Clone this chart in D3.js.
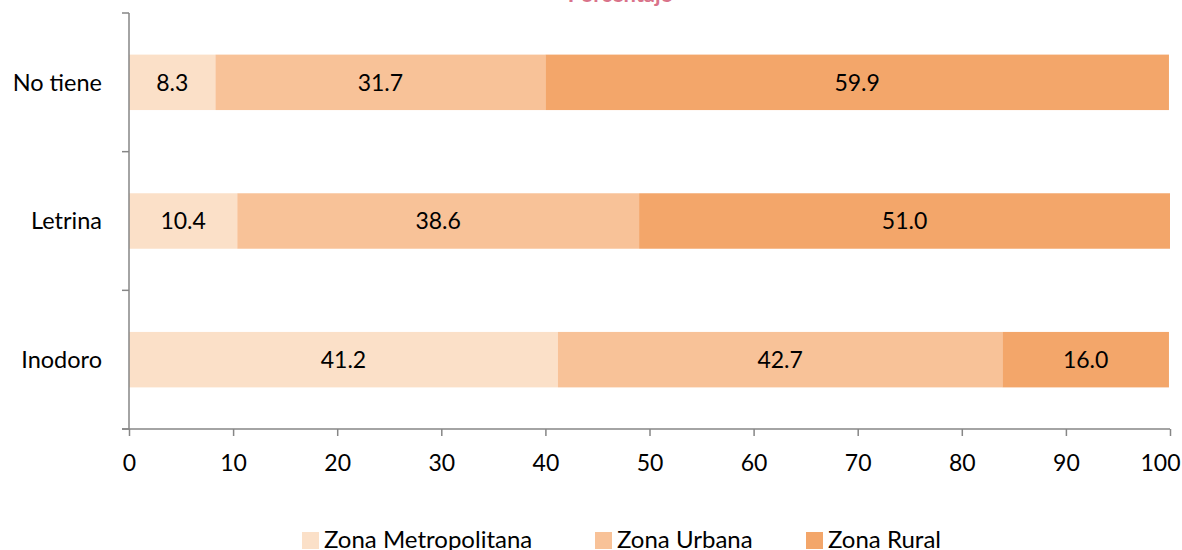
<!DOCTYPE html>
<html>
<head>
<meta charset="utf-8">
<script src="https://cdn.jsdelivr.net/npm/d3@7"></script>
<style>
  html, body { margin: 0; padding: 0; background: #fff; }
  svg { display: block; font-family: Lato, "Open Sans", sans-serif; }
</style>
</head>
<body>
<svg id="chart" width="1182" height="550"></svg>
<script>
// Distribución por zona según tipo de servicio sanitario (%)
const categories = ["No tiene", "Letrina", "Inodoro"];
const seriesNames = ["Zona Metropolitana", "Zona Urbana", "Zona Rural"];
const metropolitana = [8.3, 10.4, 41.2];
const urbana = [31.7, 38.6, 42.7];
const rural = [59.9, 51.0, 16.0];
const xTicks = [0, 10, 20, 30, 40, 50, 60, 70, 80, 90, 100];
const colors = ["#fbe0c8", "#f8c298", "#f3a66a"];

const svg = d3.select("#chart");
const plotTop = 13, plotBottom = 429, plotLeft = 129, plotRight = 1170;

const x = d3.scaleLinear().domain([0, 100]).range([plotLeft, plotRight]);
const y = d3.scaleBand().domain(categories).range([plotTop, plotBottom])
  .paddingInner(0.6).paddingOuter(0.3);
const yEdges = d3.scaleBand().domain(categories).range([plotTop, plotBottom]).padding(0);

const rows = categories.map((c, i) => ({ cat: c, vals: [metropolitana[i], urbana[i], rural[i]] }));
const stack = d3.stack().keys([0, 1, 2]).value((d, k) => d.vals[k]);
const layers = stack(rows);

// Title (sits mostly above the visible area)
svg.append("text")
  .attr("x", 620).attr("y", 2)
  .attr("text-anchor", "middle")
  .attr("font-size", 22).attr("font-weight", "bold")
  .attr("fill", "#d9738a")
  .text("Porcentaje");

// Bars with centred value labels
layers.forEach((layer, k) => {
  const g = svg.append("g");
  g.selectAll("rect").data(layer).join("rect")
    .attr("x", d => x(d[0]))
    .attr("y", d => y(d.data.cat))
    .attr("width", d => x(d[1]) - x(d[0]))
    .attr("height", y.bandwidth())
    .attr("fill", colors[k]);
  g.selectAll("text").data(layer).join("text")
    .attr("x", d => (x(d[0]) + x(d[1])) / 2)
    .attr("y", d => y(d.data.cat) + y.bandwidth() / 2)
    .attr("dy", "0.36em")
    .attr("text-anchor", "middle")
    .attr("font-size", 23)
    .attr("fill", "#000")
    .text(d => d.data.vals[k].toFixed(1));
});

// Y axis with ticks at category boundaries
const axisColor = "#868686";
svg.append("line")
  .attr("x1", plotLeft).attr("x2", plotLeft)
  .attr("y1", plotTop).attr("y2", plotBottom)
  .attr("stroke", axisColor).attr("stroke-width", 1.5);
const boundaries = categories.map(c => yEdges(c)).concat([plotBottom]);
svg.selectAll(".ytick").data(boundaries).join("line")
  .attr("x1", 122).attr("x2", plotLeft)
  .attr("y1", d => d).attr("y2", d => d)
  .attr("stroke", axisColor).attr("stroke-width", 1.5);
svg.selectAll(".ylab").data(categories).join("text")
  .attr("x", 102)
  .attr("y", c => y(c) + y.bandwidth() / 2)
  .attr("dy", "0.36em")
  .attr("text-anchor", "end")
  .attr("font-size", 23.5)
  .text(c => c);

// X axis
const xAxis = svg.append("g").attr("transform", `translate(0,${plotBottom})`)
  .call(d3.axisBottom(x).tickValues(xTicks).tickSize(7).tickPadding(19).tickFormat(d3.format("d")));
xAxis.select(".domain").attr("d", `M122,0H${x(100)}`).attr("stroke", axisColor).attr("stroke-width", 1.5);
xAxis.selectAll(".tick line").attr("stroke", axisColor).attr("stroke-width", 1.5);
xAxis.selectAll(".tick text").attr("font-size", 23).attr("fill", "#000")
  .attr("font-family", "Lato, 'Open Sans', sans-serif");
// keep the last label inside the page
xAxis.selectAll(".tick text").filter(d => d === 100)
  .attr("text-anchor", "end").attr("x", 1180 - x(100));

// Legend
const legendX = [302, 595, 806];
const legend = svg.selectAll(".legend").data(seriesNames).join("g")
  .attr("transform", (d, i) => `translate(${legendX[i]},532)`);
legend.append("rect").attr("width", 17).attr("height", 17).attr("fill", (d, i) => colors[i]);
legend.append("text").attr("x", 22).attr("y", 16)
  .attr("font-size", 24).text(d => d);
</script>
</body>
</html>
